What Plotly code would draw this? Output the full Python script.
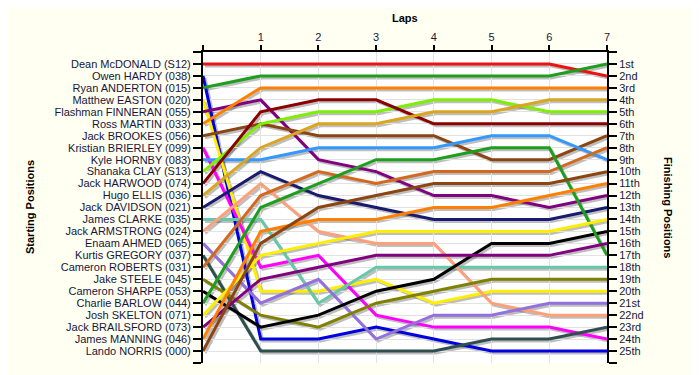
import plotly.graph_objects as go

# ---------------- data ----------------
laps = [0, 1, 2, 3, 4, 5, 6, 7]
lap_labels = ["", "1", "2", "3", "4", "5", "6", "7"]

drivers = [
    "Dean McDONALD (S12)", "Owen HARDY (038)", "Ryan ANDERTON (015)",
    "Matthew EASTON (020)", "Flashman FINNERAN (055)", "Ross MARTIN (033)",
    "Jack BROOKES (056)", "Kristian BRIERLEY (099)", "Kyle HORNBY (083)",
    "Shanaka CLAY (S13)", "Jack HARWOOD (074)", "Hugo ELLIS (036)",
    "Jack DAVIDSON (021)", "James CLARKE (035)", "Jack ARMSTRONG (024)",
    "Enaam AHMED (065)", "Kurtis GREGORY (037)", "Cameron ROBERTS (031)",
    "Jake STEELE (045)", "Cameron SHARPE (053)", "Charlie BARLOW (044)",
    "Josh SKELTON (071)", "Jack BRAILSFORD (073)", "James MANNING (046)",
    "Lando NORRIS (000)",
]

finish_labels = [
    "1st", "2nd", "3rd", "4th", "5th", "6th", "7th", "8th", "9th", "10th",
    "11th", "12th", "13th", "14th", "15th", "16th", "17th", "18th", "19th",
    "20th", "21st", "22nd", "23rd", "24th", "25th",
]

colors = [
    "#EE1111", "#0000E0", "#1E9E1E", "#FFEE00", "#800080", "#FF8000",
    "#8B4513", "#FF00FF", "#3399FF", "#7CF000", "#8B0000", "#DAA520",
    "#1A1A70", "#66C8A8", "#FFA07A", "#9370DB", "#2F4F4F", "#D2691E",
    "#808000", "#000000", "#1E9E1E", "#FFEE00", "#800080", "#FF8000",
    "#8B4513",
]

# race position of each driver after each lap (lap 0 = grid)
positions = [
    [1, 1, 1, 1, 1, 1, 1, 2],
    [2, 24, 24, 23, 24, 25, 25, 25],
    [3, 2, 2, 2, 2, 2, 2, 1],
    [4, 20, 20, 19, 21, 20, 20, 20],
    [5, 4, 9, 10, 12, 12, 13, 12],
    [6, 3, 3, 3, 3, 3, 3, 3],
    [7, 6, 7, 7, 7, 9, 9, 7],
    [8, 18, 17, 22, 23, 23, 23, 24],
    [9, 9, 8, 8, 8, 7, 7, 9],
    [10, 6, 5, 5, 4, 4, 5, 5],
    [11, 5, 4, 4, 6, 6, 6, 6],
    [12, 8, 6, 6, 5, 5, 4, 4],
    [13, 10, 12, 13, 14, 14, 14, 13],
    [14, 14, 21, 18, 18, 18, 18, 18],
    [15, 11, 15, 16, 16, 21, 22, 22],
    [16, 21, 19, 24, 22, 22, 21, 21],
    [17, 25, 25, 25, 25, 24, 24, 23],
    [18, 12, 10, 11, 10, 10, 10, 8],
    [19, 22, 23, 21, 20, 19, 19, 19],
    [20, 23, 22, 20, 19, 16, 16, 15],
    [21, 13, 11, 9, 9, 8, 8, 17],
    [22, 17, 16, 15, 15, 15, 15, 14],
    [23, 19, 18, 17, 17, 17, 17, 16],
    [24, 15, 14, 14, 13, 13, 12, 11],
    [25, 16, 13, 12, 11, 11, 11, 10],
]

# ---------------- layout geometry ----------------
W, H = 700, 375
OFF = 8                      # page body margin of the browser
ml, mt = 203 - OFF, 52 - OFF
sh = 2                       # shadow offset in pixels
pw = 404 + sh
ph = 311 + sh
mr = W - ml - pw
mb = H - mt - ph
n = len(drivers)
row_vals = list(range(0, n + 2))


def px_x(sx):
    return (sx - OFF - ml) / pw


def px_y(sy):
    return (mt + ph - (sy - OFF)) / ph


paper = "#FFFFF2"
txt = "#16163C"
font_family = "Liberation Sans, Arial, sans-serif"

fig = go.Figure()

# shadows (first subplot, shifted down-right)
for pos in positions:
    fig.add_trace(go.Scatter(
        x=laps, y=pos, mode="lines", xaxis="x", yaxis="y",
        line=dict(color="rgba(70,70,70,0.35)", width=3),
        hoverinfo="skip", showlegend=False))

# the driver lines (main visible subplot)
for name, col, pos in zip(drivers, colors, positions):
    fig.add_trace(go.Scatter(
        x=laps, y=pos, mode="lines", name=name, xaxis="x2", yaxis="y2",
        line=dict(color=col, width=3), showlegend=False))

# invisible trace to drive the right-hand (finishing) axis
fig.add_trace(go.Scatter(
    x=[laps[-1]] * n, y=[p[-1] for p in positions], mode="markers",
    marker=dict(opacity=0), xaxis="x2", yaxis="y3",
    hoverinfo="skip", showlegend=False))

axis_common = dict(showline=True, linecolor="black", linewidth=2,
                   ticks="outside", tickcolor="black", tickwidth=1.5,
                   zeroline=False, fixedrange=True,
                   tickfont=dict(family=font_family, size=11, color=txt))

fig.update_layout(
    width=W, height=H,
    margin=dict(l=ml, r=mr, t=mt, b=mb, pad=0),
    paper_bgcolor=paper, plot_bgcolor="rgba(0,0,0,0)",
    font=dict(family=font_family, size=11, color=txt),
    xaxis=dict(domain=[sh / pw, 1], range=[0, 7], visible=False,
               anchor="y", fixedrange=True),
    yaxis=dict(domain=[0, (ph - sh) / ph], range=[n + 1, 0], visible=False,
               anchor="x", fixedrange=True),
    xaxis2=dict(domain=[0, (pw - sh) / pw], range=[0, 7], side="top",
                tickvals=laps, ticktext=lap_labels, ticklen=5,
                showgrid=True, gridcolor="#E2E2E2", gridwidth=1,
                anchor="y2", **axis_common),
    yaxis2=dict(domain=[sh / ph, 1], range=[n + 1, 0],
                tickvals=row_vals, ticktext=[""] + drivers + [""], ticklen=8,
                showgrid=True, gridcolor="#E2E2E2", gridwidth=1,
                anchor="x2", **axis_common),
    yaxis3=dict(overlaying="y2", side="right", anchor="x2", range=[n + 1, 0],
                tickvals=row_vals, ticktext=[""] + finish_labels + [""],
                ticklen=8, showgrid=False, **axis_common),
    shapes=[dict(type="rect", xref="paper", yref="paper",
                 x0=0, x1=(pw - sh) / pw, y0=sh / ph, y1=1,
                 fillcolor="white", line=dict(width=0), layer="below")],
    annotations=[
        dict(text="<b>Laps</b>", xref="paper", yref="paper",
             x=px_x(405), y=px_y(18), showarrow=False,
             xanchor="center", yanchor="middle",
             font=dict(family=font_family, size=11, color="black")),
        dict(text="<b>Starting Positions</b>", xref="paper", yref="paper",
             x=px_x(30), y=px_y(207), showarrow=False,
             textangle=-90, xanchor="center", yanchor="middle",
             font=dict(family=font_family, size=11, color="black")),
        dict(text="<b>Finishing Positions</b>", xref="paper", yref="paper",
             x=px_x(668), y=px_y(207), showarrow=False,
             textangle=90, xanchor="center", yanchor="middle",
             font=dict(family=font_family, size=11, color="black")),
    ],
)

fig.write_html("out.html")
